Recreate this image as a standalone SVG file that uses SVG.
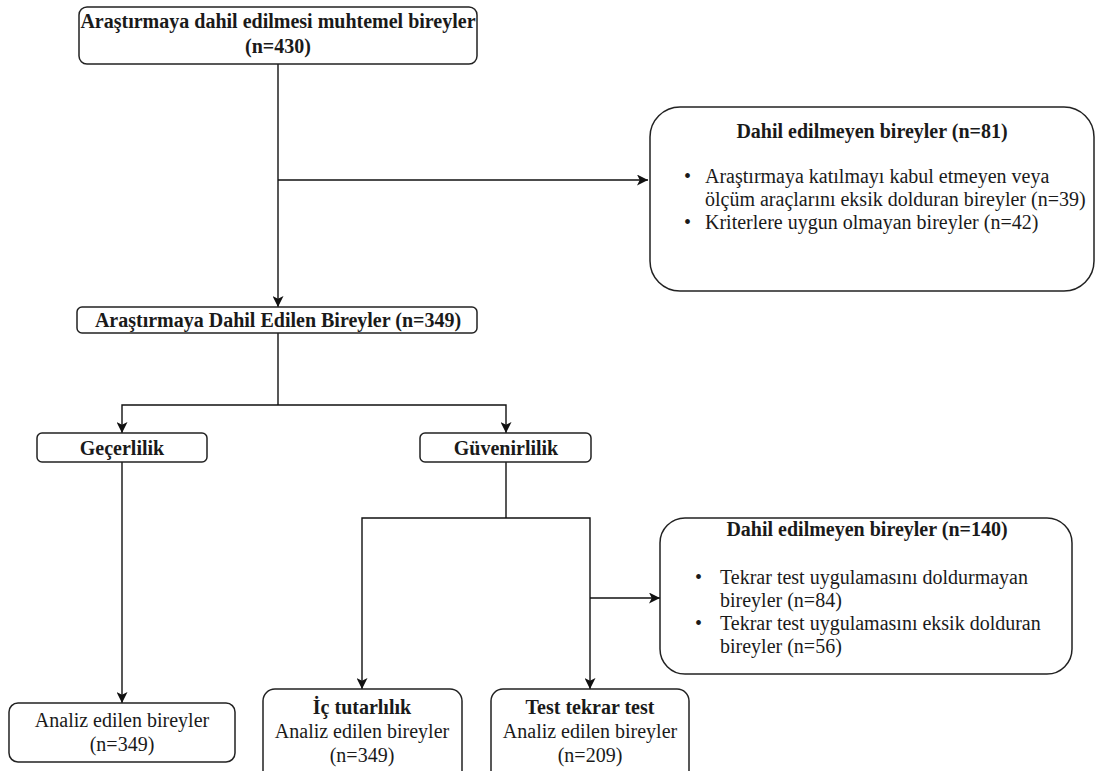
<svg xmlns="http://www.w3.org/2000/svg" width="1096" height="771" viewBox="0 0 1096 771">
<defs>
<style>
.box{fill:#fff;stroke:#222;stroke-width:1.5}
.t{font-family:'Liberation Serif',Tinos,'Times New Roman','DejaVu Serif',serif;font-size:20px;fill:#1a1a1a;dominant-baseline:central}
.b{font-weight:bold}
.c{text-anchor:middle}
.ln{fill:none;stroke:#111;stroke-width:1.4}
</style>
<marker id="ar" viewBox="0 0 10 10" refX="10" refY="5" markerWidth="11" markerHeight="11" markerUnits="userSpaceOnUse" orient="auto">
<path d="M0,0 L10,5 L0,10 L2.5,5 Z" fill="#111"/>
</marker>
</defs>
<rect width="1096" height="771" fill="#fff"/>
<g id="connectors">
<path class="ln" d="M278,64 V307" marker-end="url(#ar)"/>
<path class="ln" d="M278,180 H648" marker-end="url(#ar)"/>
<path class="ln" d="M278,333 V405"/>
<path class="ln" d="M278,405 H122 V433" marker-end="url(#ar)"/>
<path class="ln" d="M278,405 H506 V433" marker-end="url(#ar)"/>
<path class="ln" d="M122,462 V703" marker-end="url(#ar)"/>
<path class="ln" d="M506,462 V518"/>
<path class="ln" d="M506,518 H362 V689" marker-end="url(#ar)"/>
<path class="ln" d="M506,518 H590 V689" marker-end="url(#ar)"/>
<path class="ln" d="M590,598 H660" marker-end="url(#ar)"/>
</g>
<g id="n1">
<rect class="box" x="79" y="7" width="398" height="57" rx="8"/>
<text class="t b c" x="278" y="21">Araştırmaya dahil edilmesi muhtemel bireyler</text>
<text class="t b c" x="278" y="46">(n=430)</text>
</g>
<g id="n2">
<rect class="box" x="650" y="107" width="444" height="184" rx="30"/>
<text class="t b c" x="872" y="131">Dahil edilmeyen bireyler (n=81)</text>
<text class="t" x="684" y="176">•</text>
<text class="t" x="705" y="176">Araştırmaya katılmayı kabul etmeyen veya</text>
<text class="t" x="705" y="199">ölçüm araçlarını eksik dolduran bireyler (n=39)</text>
<text class="t" x="684" y="222">•</text>
<text class="t" x="705" y="222">Kriterlere uygun olmayan bireyler (n=42)</text>
</g>
<g id="n3">
<rect class="box" x="77" y="307" width="400" height="26" rx="5"/>
<text class="t b c" x="278" y="320">Araştırmaya Dahil Edilen Bireyler (n=349)</text>
</g>
<g id="n4">
<rect class="box" x="37" y="433" width="170" height="29" rx="5"/>
<text class="t b c" x="122" y="448">Geçerlilik</text>
</g>
<g id="n5">
<rect class="box" x="420" y="433" width="171" height="29" rx="5"/>
<text class="t b c" x="506" y="448">Güvenirlilik</text>
</g>
<g id="n6">
<rect class="box" x="660" y="518" width="412" height="156" rx="25"/>
<text class="t b c" x="867" y="529">Dahil edilmeyen bireyler (n=140)</text>
<text class="t" x="695" y="577">•</text>
<text class="t" x="720" y="577">Tekrar test uygulamasını doldurmayan</text>
<text class="t" x="720" y="600">bireyler (n=84)</text>
<text class="t" x="695" y="623">•</text>
<text class="t" x="720" y="623">Tekrar test uygulamasını eksik dolduran</text>
<text class="t" x="720" y="646">bireyler (n=56)</text>
</g>
<g id="n7">
<rect class="box" x="9" y="703" width="226" height="59" rx="9"/>
<text class="t c" x="122" y="720">Analiz edilen bireyler</text>
<text class="t c" x="122" y="744">(n=349)</text>
</g>
<g id="n8">
<rect class="box" x="263" y="689" width="199" height="100" rx="12"/>
<text class="t b c" x="362" y="707">İç tutarlılık</text>
<text class="t c" x="362" y="731">Analiz edilen bireyler</text>
<text class="t c" x="362" y="755">(n=349)</text>
</g>
<g id="n9">
<rect class="box" x="491" y="689" width="198" height="100" rx="12"/>
<text class="t b c" x="590" y="707">Test tekrar test</text>
<text class="t c" x="590" y="731">Analiz edilen bireyler</text>
<text class="t c" x="590" y="755">(n=209)</text>
</g>
</svg>
